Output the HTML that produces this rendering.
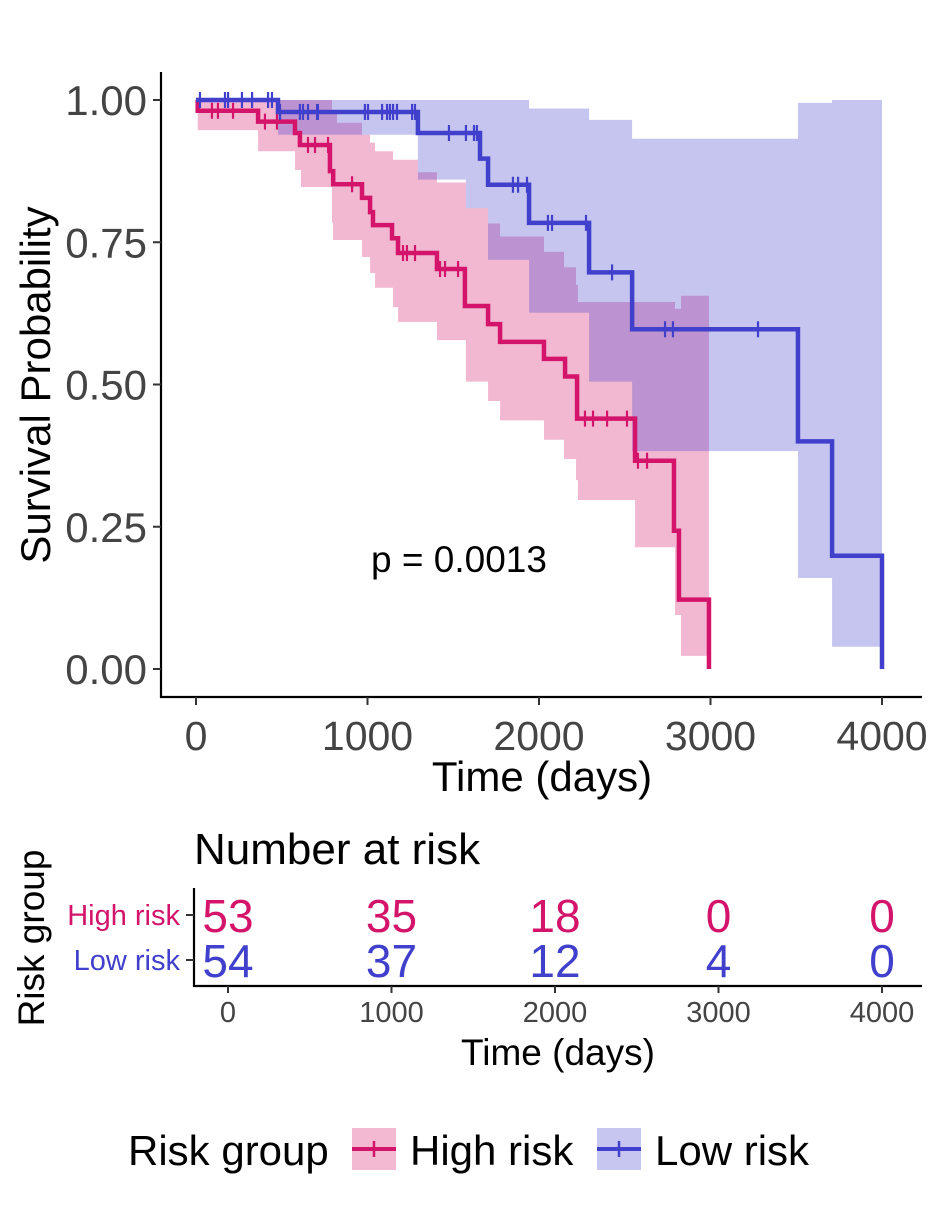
<!DOCTYPE html>
<html><head><meta charset="utf-8"><style>
body{margin:0;background:#fff;}
svg{display:block;font-family:"Liberation Sans",Arial,sans-serif;}
</style></head><body>
<svg id="chart" width="940" height="1208" viewBox="0 0 940 1208" xmlns="http://www.w3.org/2000/svg">
<g id="bands"></g><g id="curves"></g><g id="axes"></g><g id="table"></g>
<text x="459" y="572" font-size="37" fill="#000" text-anchor="middle">p = 0.0013</text>
<text x="542" y="791" font-size="42" fill="#000" text-anchor="middle">Time (days)</text>
<text transform="translate(50,385) rotate(-90)" font-size="42" fill="#000" text-anchor="middle">Survival Probability</text>
<text x="194" y="864" font-size="44" fill="#000">Number at risk</text>
<text transform="translate(44,938) rotate(-90)" font-size="37" fill="#000" text-anchor="middle">Risk group</text>
<text x="558" y="1065" font-size="37" fill="#000" text-anchor="middle">Time (days)</text>
<g>
<text x="128" y="1165" font-size="42" fill="#000">Risk group</text>
<g>
<rect x="352" y="1128" width="44" height="42" fill="rgb(243,185,210)"/>
<line x1="352" y1="1149" x2="396" y2="1149" stroke="#D4146A" stroke-width="4"/>
<line x1="374" y1="1141" x2="374" y2="1157" stroke="#D4146A" stroke-width="2.5"/>
<text x="410" y="1165" font-size="42" fill="#000">High risk</text></g>
<g>
<rect x="597" y="1128" width="44" height="42" fill="rgb(198,198,240)"/>
<line x1="597" y1="1149" x2="641" y2="1149" stroke="#4040CC" stroke-width="4"/>
<line x1="619" y1="1141" x2="619" y2="1157" stroke="#4040CC" stroke-width="2.5"/>
<text x="655" y="1165" font-size="42" fill="#000">Low risk</text></g>
</g>
</svg>
<script>
const xTicks=[0,1000,2000,3000,4000];
const yTicks=[0,0.25,0.5,0.75,1];
const yTickLabels=["0.00","0.25","0.50","0.75","1.00"];
// High risk KM steps
const highT=[0,10,362,577,606,781,800,968,1015,1032,1143,1178,1405,1568,1703,1773,2029,2152,2222,2560,2787,2816,2991];
const highS=[1,0.981,0.962,0.942,0.921,0.875,0.852,0.828,0.803,0.780,0.757,0.731,0.703,0.638,0.606,0.575,0.545,0.514,0.440,0.366,0.243,0.122,0];
const highCensor=[93,128,216,402,472,653,694,770,910,1207,1230,1277,1423,1452,1528,2268,2315,2397,2513,2577,2630];
const highCiT=[0,10,362,577,612,793,799,822,968,1015,1044,1149,1178,1294,1405,1574,1703,1773,2029,2146,2216,2227,2560,2793,2828,2991];
const highLo=[1,0.947,0.91,0.877,0.847,0.784,0.754,0.754,0.724,0.696,0.67,0.636,0.61,0.61,0.578,0.505,0.471,0.437,0.403,0.369,0.332,0.297,0.214,0.095,0.023,0.023];
const highHi=[1,1,1,1,1,0.977,0.977,0.96,0.939,0.925,0.91,0.895,0.895,0.873,0.855,0.81,0.783,0.76,0.733,0.706,0.675,0.645,0.645,0.633,0.656,0.656];
// Low risk KM steps
const lowT=[0,478,1294,1656,1703,1942,2292,2543,3510,3709,4000];
const lowS=[1,0.979,0.942,0.897,0.851,0.784,0.697,0.597,0.400,0.199,0];
const lowCensor=[23,169,187,268,327,420,443,490,606,624,653,706,711,985,1003,1085,1114,1131,1149,1172,1260,1277,1475,1574,1621,1638,1848,1878,1930,2052,2076,2274,2426,2735,2781,3277];
const lowCiT=[0,478,1294,1574,1703,1942,2292,2543,3510,3709,4000];
const lowLo=[1,0.939,0.86,0.81,0.719,0.626,0.505,0.383,0.16,0.039,0.039];
const lowHi=[1,1,1,1,1,0.985,0.965,0.932,0.995,1,1];
// risk table
const riskTimes=[0,1000,2000,3000,4000];
const riskHigh=[53,35,18,0,0];
const riskLow=[54,37,12,4,0];

const NS="http://www.w3.org/2000/svg";
const X=t=>196+t*0.1715, Y=s=>669-s*569, XT=t=>228+t*0.1635;
const RED="#D4146A", BLUE="#4040CC";
function el(tag,attrs,parent){const e=document.createElementNS(NS,tag);for(const k in attrs)e.setAttribute(k,attrs[k]);parent.appendChild(e);return e;}
const bands=document.getElementById('bands'),curves=document.getElementById('curves'),axes=document.getElementById('axes'),table=document.getElementById('table');
function band(T,lo,hi,fill,name){
  let up=[],dn=[];
  for(let i=0;i<T.length;i++){const x0=X(T[i]),x1=X(i<T.length-1?T[i+1]:T[i]);
    up.push(`${x0},${Y(hi[i])}`,`${x1},${Y(hi[i])}`);dn.push(`${x0},${Y(lo[i])}`,`${x1},${Y(lo[i])}`);}
  const p=el('polygon',{points:up.concat(dn.reverse()).join(' '),fill:fill,'fill-opacity':0.3},bands);
  
  
}
band(highCiT,highLo,highHi,RED,'ci-band-high');
band(lowCiT,lowLo,lowHi,BLUE,'ci-band-low');
function sAt(T,S,t){let s=S[0];for(let i=0;i<T.length;i++){if(T[i]<=t)s=S[i];}return s;}
function curve(T,S,C,col,name){
  let d=`M${X(T[0])},${Y(S[0])}`;
  for(let i=1;i<T.length;i++){d+=` H${X(T[i])} V${Y(S[i])}`;}
  const p=el('path',{d:d,fill:'none',stroke:col,'stroke-width':4.5},curves);
  
  
  C.forEach(t=>{const y=Y(sAt(T,S,t));
    const l=el('line',{x1:X(t),x2:X(t),y1:y-8,y2:y+8,stroke:col,'stroke-width':2.2},curves);
    
    });
}
curve(highT,highS,highCensor,RED,'km-curve-high');
curve(lowT,lowS,lowCensor,BLUE,'km-curve-low');
// axes
el('line',{x1:161,y1:72,x2:161,y2:698,stroke:'#000','stroke-width':2.2},axes);
el('line',{x1:160,y1:697,x2:922,y2:697,stroke:'#000','stroke-width':2.2},axes);
xTicks.forEach(t=>{el('line',{x1:X(t),x2:X(t),y1:697,y2:705,stroke:'#333','stroke-width':2},axes);
  const tx=el('text',{x:X(t),y:750,'font-size':41,fill:'#444','text-anchor':'middle'},axes);tx.textContent=t;
  
  });
yTicks.forEach((v,i)=>{el('line',{x1:153,x2:161,y1:Y(v),y2:Y(v),stroke:'#333','stroke-width':2},axes);
  const tx=el('text',{x:147,y:Y(v)+15,'font-size':42,fill:'#444','text-anchor':'end'},axes);tx.textContent=yTickLabels[i];
  
  });
// risk table
el('line',{x1:194,y1:888,x2:194,y2:987,stroke:'#000','stroke-width':2.2},table);
el('line',{x1:193,y1:986,x2:922,y2:986,stroke:'#000','stroke-width':2.2},table);
[[915,'High risk',RED],[960,'Low risk',BLUE]].forEach(r=>{el('line',{x1:186,x2:194,y1:r[0],y2:r[0],stroke:'#333','stroke-width':2},table);
  const tx=el('text',{x:180,y:r[0]+10,'font-size':29,fill:r[2],'text-anchor':'end'},table);tx.textContent=r[1];
  
  });
riskTimes.forEach((t,i)=>{
  el('line',{x1:XT(t),x2:XT(t),y1:986,y2:993,stroke:'#333','stroke-width':2},table);
  const tl=el('text',{x:XT(t),y:1022,'font-size':29,fill:'#444','text-anchor':'middle'},table);tl.textContent=t;
  
  
  const a=el('text',{x:XT(t),y:932,'font-size':46,fill:RED,'text-anchor':'middle'},table);a.textContent=riskHigh[i];
  
  
  const b=el('text',{x:XT(t),y:977,'font-size':46,fill:BLUE,'text-anchor':'middle'},table);b.textContent=riskLow[i];
  
  
});
</script>
</body></html>
